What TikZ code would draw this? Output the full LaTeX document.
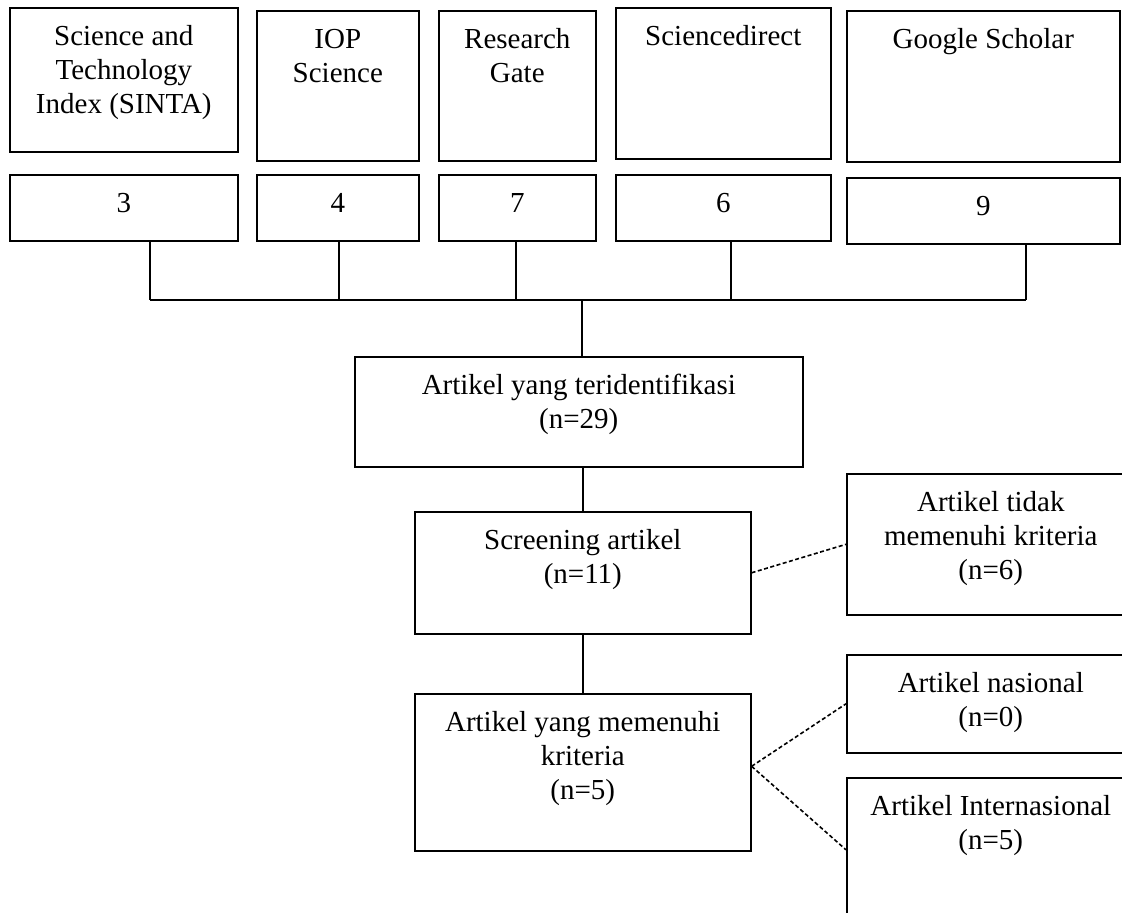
\documentclass[tikz,border=0pt]{standalone}
\usepackage{fontspec}
\setmainfont{Liberation Serif}
\usepackage{tikz}

\begin{document}
\begin{tikzpicture}[x=1pt, y=-1pt, line width=1.6pt,
    box/.style n args={3}{draw, rectangle, anchor=north west, align=center,
        inner ysep=0pt, minimum width=#1, text height=#2, text depth=#3,
        font=\fontsize{29}{34}\selectfont},
    side/.style={dash pattern=on 4pt off 2.5pt}]
            \useasboundingbox (0,0) rectangle (1122,913);
            \clip (0,0) rectangle (1122,913);

            % Top level - Sources
            \node[box={228pt}{105.5pt}{38.5pt}] (sinta) at (9,7) {Science and\\Technology\\Index (SINTA)};
            \node[box={162pt}{71.5pt}{78.5pt}] (iop) at (256,10) {IOP\\Science};
            \node[box={157pt}{71.5pt}{78.5pt}] (rgate) at (438,10) {Research\\Gate};
            \node[box={215pt}{37.5pt}{113.5pt}] (sdirect) at (615,7) {Sciencedirect};
            \node[box={273pt}{37.5pt}{113.5pt}] (gscholar) at (846,10) {Google Scholar};

            % Second level - Counts
            \node[box={228pt}{37.5pt}{28.5pt}] (nsinta) at (9,174) {3};
            \node[box={162pt}{37.5pt}{28.5pt}] (niop) at (256,174) {4};
            \node[box={157pt}{37.5pt}{28.5pt}] (nrgate) at (438,174) {7};
            \node[box={215pt}{37.5pt}{28.5pt}] (nsdirect) at (615,174) {6};
            \node[box={273pt}{37.5pt}{28.5pt}] (ngscholar) at (846,177) {9};

            % Third level - Identification and screening
            \node[box={448pt}{71.5pt}{38.5pt}] (ident) at (354,356) {Artikel yang teridentifikasi\\(n=29)};
            \node[box={336pt}{71.5pt}{50.5pt}] (screen) at (414,511) {Screening artikel\\(n=11)};
            \node[box={288pt}{105.5pt}{35.5pt}] (reject) at (846,473) {Artikel tidak\\memenuhi kriteria\\(n=6)};

            % Bottom level - Included
            \node[box={336pt}{105.5pt}{51.5pt}] (include) at (414,693) {Artikel yang memenuhi\\kriteria\\(n=5)};
            \node[box={288pt}{71.5pt}{26.5pt}] (nasional) at (846,654) {Artikel nasional\\(n=0)};
            \node[box={288pt}{71.5pt}{72.5pt}] (inter) at (846,777) {Artikel Internasional\\(n=5)};

            % Bus
            \coordinate (b1) at (150,300);
            \coordinate (b2) at (339,300);
            \coordinate (b3) at (516,300);
            \coordinate (b4) at (731,300);
            \coordinate (b5) at (1026,300);
            \coordinate (hub) at (582,300);

            % Lines
            \draw (b1 |- nsinta.south) -- (b1);
            \draw (b2 |- niop.south) -- (b2);
            \draw (b3 |- nrgate.south) -- (b3);
            \draw (b4 |- nsdirect.south) -- (b4);
            \draw (b5 |- ngscholar.south) -- (b5);
            \draw (b1) -- (b5);
            \draw (hub) -- (hub |- ident.north);
            \draw (screen.north |- ident.south) -- (screen.north);
            \draw (screen.south) -- (include.north);
            \draw[side] (screen.east) -- (reject.west);
            \draw[side] ([yshift=6pt]include.east) -- (nasional.west);
            \draw[side] ([yshift=6pt]include.east) -- (inter.west);
        \end{tikzpicture}
\end{document}
